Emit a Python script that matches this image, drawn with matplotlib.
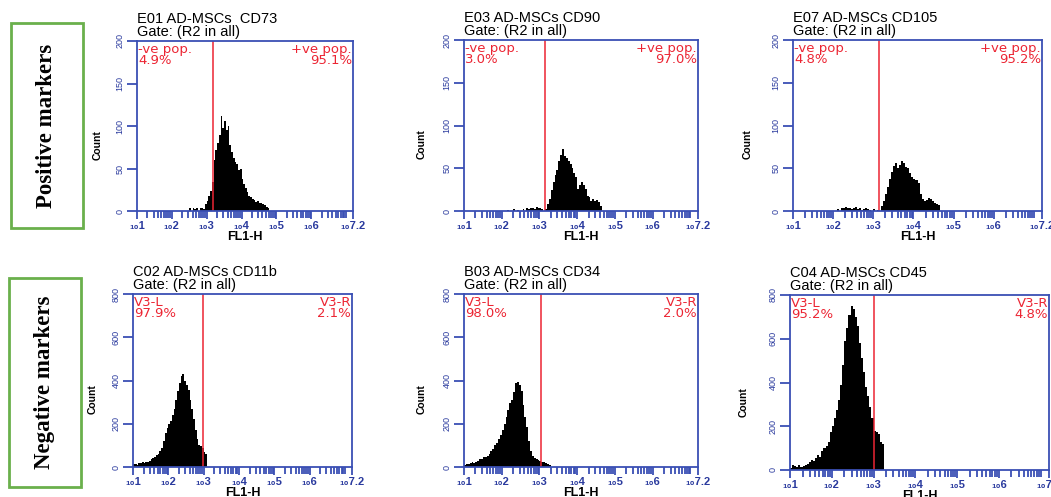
import matplotlib
matplotlib.use("Agg")
import matplotlib.pyplot as plt
import numpy as np
from matplotlib.patches import Rectangle

# ----- data -----
BIN_W = 0.05  # width of one histogram bin in log10(FL1-H)

titles = ["E01 AD-MSCs  CD73", "E03 AD-MSCs CD90", "E07 AD-MSCs CD105",
          "C02 AD-MSCs CD11b", "B03 AD-MSCs CD34", "C04 AD-MSCs CD45"]
gate_text = "Gate: (R2 in all)"
left_names = ["-ve pop.", "-ve pop.", "-ve pop.", "V3-L", "V3-L", "V3-L"]
right_names = ["+ve pop.", "+ve pop.", "+ve pop.", "V3-R", "V3-R", "V3-R"]
left_pct = ["4.9%", "3.0%", "4.8%", "97.9%", "98.0%", "95.2%"]
right_pct = ["95.1%", "97.0%", "95.2%", "2.1%", "2.0%", "4.8%"]
gate_pos = [3.17, 3.15, 3.15, 2.99, 3.03, 3.01]
y_max = [200, 200, 200, 800, 800, 800]
hist_start = [2.50, 2.15, 2.10, 1.00, 1.00, 1.00]

counts_cd73 = [3, 0, 4, 2, 3, 0, 4, 3, 2, 8, 12, 18, 24, 34, 60, 72, 80, 90,
               112, 98, 106, 95, 100, 78, 70, 62, 58, 55, 48, 50, 38, 32, 27,
               22, 18, 16, 14, 13, 11, 12, 9, 10, 8, 7, 5, 3]
counts_cd90 = [1, 0, 0, 2, 0, 1, 0, 0, 2, 0, 3, 2, 3, 4, 2, 5, 3, 4, 2, 0,
               2, 8, 14, 25, 34, 42, 48, 58, 66, 72, 64, 62, 58, 55, 50, 45,
               40, 26, 30, 34, 30, 26, 18, 16, 12, 14, 12, 13, 10, 6]
counts_cd105 = [2, 0, 3, 4, 5, 3, 4, 2, 3, 5, 2, 3, 1, 2, 3, 2, 1, 0, 2, 0,
                1, 0, 6, 12, 20, 28, 38, 46, 53, 56, 50, 54, 59, 56, 52, 50,
                44, 40, 38, 36, 33, 20, 14, 12, 13, 15, 14, 12, 9, 8, 7]
counts_cd11b = [12, 15, 10, 20, 18, 22, 20, 25, 22, 30, 35, 40, 45, 55, 60,
                75, 90, 120, 155, 180, 200, 215, 240, 270, 310, 350, 390, 420,
                430, 400, 380, 356, 310, 270, 220, 170, 130, 100, 95, 90, 70,
                62]
counts_cd34 = [10, 15, 12, 18, 22, 20, 25, 30, 38, 35, 45, 48, 50, 60, 72, 85,
               100, 110, 130, 150, 170, 200, 230, 265, 295, 310, 345, 390, 395,
               380, 350, 285, 230, 185, 120, 75, 50, 40, 38, 32, 30, 25, 22,
               20, 12, 10]
counts_cd45 = [10, 25, 18, 15, 22, 14, 18, 25, 28, 35, 45, 40, 55, 70, 60, 85,
               100, 110, 130, 175, 200, 240, 275, 320, 390, 480, 590, 650, 710,
               748, 735, 700, 660, 580, 510, 450, 380, 340, 290, 240, 180, 172,
               165, 130, 120]
all_counts = [counts_cd73, counts_cd90, counts_cd105,
              counts_cd11b, counts_cd34, counts_cd45]

x_tick_pos = [1, 2, 3, 4, 5, 6, 7.2]
x_tick_txt = ["1", "2", "3", "4", "5", "6", "7.2"]

# ----- layout (pixel boxes: left, right, top, bottom) -----
W, H = 1051, 497
boxes = [(137, 353, 41, 211), (464, 698, 40, 211), (793, 1042, 40, 211),
         (133, 352, 294, 467), (464, 698, 294, 467), (790, 1049, 295, 470)]
count_offset = [34, 37, 40, 35, 37, 41]

blue = "#3a4fb4"
tblue = "#2a3a9e"
red = "#ec2533"
green = "#6ab04c"

plt.rcParams["font.family"] = ["Liberation Sans", "DejaVu Sans"]
fig = plt.figure(figsize=(W / 100, H / 100), dpi=100)

for i in range(6):
    l, r, t, b = boxes[i]
    ax = fig.add_axes([l / W, 1 - b / H, (r - l) / W, (b - t) / H])
    counts = np.array(all_counts[i])
    lefts = hist_start[i] + BIN_W * np.arange(len(counts))
    ax.bar(lefts, counts, width=BIN_W, align="edge", color="black",
           linewidth=0)
    ax.axvline(gate_pos[i], color=red, lw=1.1)

    ax.set_xlim(1, 7.2)
    ax.set_ylim(0, y_max[i])
    ax.set_yticks(np.linspace(0, y_max[i], 5))
    ax.set_yticklabels([str(int(v)) for v in np.linspace(0, y_max[i], 5)])
    ax.set_xticks(x_tick_pos)
    # "10" written small below, exponent at normal size
    ax.set_xticklabels(["\u2081\u2080" + s for s in x_tick_txt])
    minor = [d + np.log10(k) for d in range(1, 7) for k in range(2, 10)] + [7]
    ax.set_xticks(minor, minor=True)

    for sp in ax.spines.values():
        sp.set_color(blue)
        sp.set_linewidth(1.3)
    ax.tick_params(axis="y", direction="out", length=7, width=1.3, color=blue,
                   labelcolor=tblue, labelsize=6.5, labelrotation=90, pad=2)
    for lab in ax.get_yticklabels():
        lab.set_va("center")
    ax.tick_params(axis="x", which="both", direction="out", color=blue,
                   labelcolor=tblue, labelsize=8, width=1.3, pad=1)
    ax.tick_params(axis="x", which="major", length=6)
    ax.tick_params(axis="x", which="minor", length=5)
    for lab in ax.get_xticklabels():
        lab.set_fontweight("bold")

    ax.set_xlabel("FL1-H", fontsize=9, fontweight="bold", labelpad=0)
    ax.set_ylabel("Count", fontsize=7.5, fontweight="bold")
    ax.yaxis.set_label_coords(-count_offset[i] / (r - l), 0.39)

    # header above the plot
    ax.annotate(titles[i], xy=(0, 1), xycoords="axes fraction",
                xytext=(0, 18), textcoords="offset pixels", fontsize=10.5,
                ha="left", va="baseline")
    ax.annotate(gate_text, xy=(0, 1), xycoords="axes fraction",
                xytext=(0, 5), textcoords="offset pixels", fontsize=10.5,
                ha="left", va="baseline")
    # gate region percentages
    for txt, dy in [(left_names[i], -12), (left_pct[i], -23)]:
        ax.annotate(txt, xy=(0, 1), xycoords="axes fraction",
                    xytext=(1, dy), textcoords="offset pixels", fontsize=9.5,
                    color=red, ha="left", va="baseline", family="DejaVu Sans")
    for txt, dy in [(right_names[i], -12), (right_pct[i], -23)]:
        ax.annotate(txt, xy=(1, 1), xycoords="axes fraction",
                    xytext=(-1, dy), textcoords="offset pixels", fontsize=9.5,
                    color=red, ha="right", va="baseline", family="DejaVu Sans")

# ----- row labels in green boxes -----
rows = [("Positive markers", (11, 83, 23, 228)),
        ("Negative markers", (9, 81, 278, 487))]
for label, (l, r, t, b) in rows:
    fig.patches.append(Rectangle((l / W, 1 - b / H), (r - l) / W, (b - t) / H,
                                 transform=fig.transFigure, fill=False,
                                 edgecolor=green, linewidth=2))
    fig.text((l + r) / 2 / W, 1 - (t + b) / 2 / H, label, rotation=90,
             ha="center", va="center", fontsize=16.5, fontweight="bold",
             family=["Liberation Serif", "DejaVu Serif"])

fig.savefig("out.png", dpi=100)
